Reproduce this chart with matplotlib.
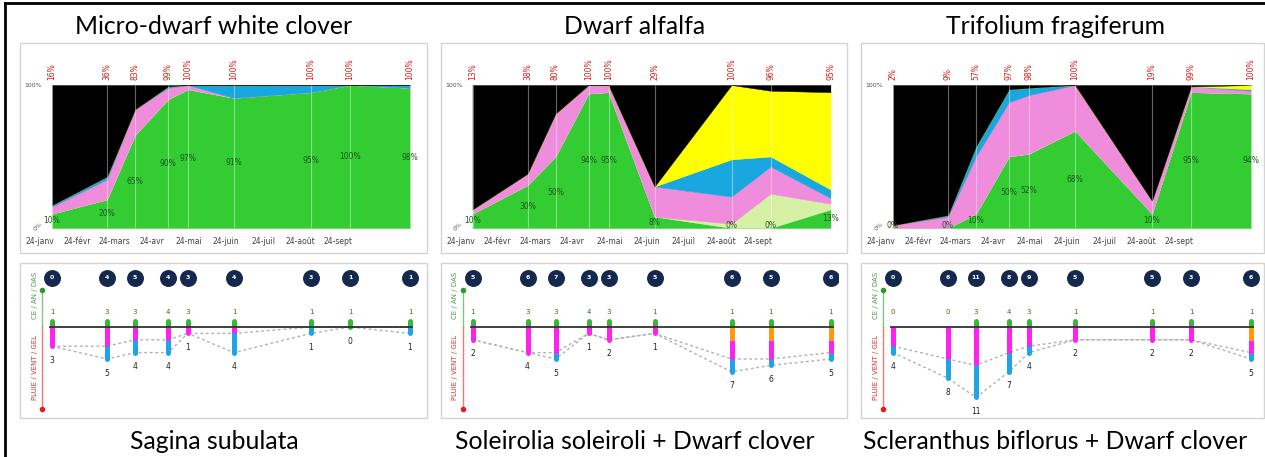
import matplotlib
matplotlib.use('Agg')
import matplotlib.pyplot as plt
from matplotlib.patches import Rectangle
from matplotlib.lines import Line2D

# ---------------- data ----------------
titles_top = ['Micro-dwarf white clover', 'Dwarf alfalfa', 'Trifolium fragiferum']
titles_bottom = ['Sagina subulata', 'Soleirolia soleiroli + Dwarf clover',
                 'Scleranthus biflorus + Dwarf clover']

# sampling positions (days from first survey)
sample_x = [0, 55, 83, 116, 136, 182, 259, 298, 358]
month_labels = ['24-janv', '24-févr', '24-mars', '24-avr', '24-mai',
                '24-juin', '24-juil', '24-août', '24-sept']

# upper charts: % cover (stacked)
green_1 = [10, 20, 65, 90, 97, 91, 95, 100, 98]
lightg_1 = [0, 0, 0, 0, 0, 0, 0, 0, 0]
pink_1 = [5, 14, 18, 8, 3, 0, 0, 0, 0]
blue_1 = [1, 2, 0, 1, 0, 9, 5, 0, 2]
yellow_1 = [0, 0, 0, 0, 0, 0, 0, 0, 0]

green_2 = [10, 30, 50, 94, 95, 8, 0, 0, 13]
lightg_2 = [0, 0, 0, 0, 0, 0, 3, 24, 4]
pink_2 = [3, 8, 30, 6, 5, 21, 19, 19, 4]
blue_2 = [0, 0, 0, 0, 0, 0, 26, 7, 6]
yellow_2 = [0, 0, 0, 0, 0, 0, 52, 46, 68]

green_3 = [0, 0, 10, 50, 52, 68, 10, 95, 94]
lightg_3 = [0, 0, 0, 0, 0, 0, 0, 0, 0]
pink_3 = [2, 8, 40, 38, 41, 32, 9, 4, 2]
blue_3 = [0, 1, 7, 9, 5, 0, 0, 0, 1]
yellow_3 = [0, 0, 0, 0, 0, 0, 0, 0, 3]

# lower charts: counts
bubble_1 = [0, 4, 5, 4, 3, 4, 3, 1, 1]
above_1 = [1, 3, 3, 4, 3, 1, 1, 1, 1]
orange_1 = [0, 0, 0, 0, 0, 0, 0, 0, 0]
magenta_1 = [3, 3, 2, 2, 1, 1, 0, 0, 0]
cyan_1 = [0, 2, 2, 2, 0, 3, 1, 0, 1]

bubble_2 = [5, 6, 7, 3, 3, 5, 6, 5, 6]
above_2 = [1, 3, 3, 4, 3, 1, 1, 1, 1]
orange_2 = [0, 0, 0, 0, 0, 0, 2, 2, 2]
magenta_2 = [2, 4, 4, 1, 2, 1, 3, 3, 2]
cyan_2 = [0, 0, 1, 0, 0, 0, 2, 1, 1]

bubble_3 = [0, 6, 11, 8, 9, 5, 5, 3, 6]
above_3 = [0, 0, 3, 4, 3, 1, 1, 1, 1]
orange_3 = [0, 0, 0, 0, 0, 0, 0, 0, 2]
magenta_3 = [3, 5, 6, 4, 3, 2, 2, 2, 2]
cyan_3 = [1, 3, 5, 3, 1, 0, 0, 0, 1]

upper = [(green_1, lightg_1, pink_1, blue_1, yellow_1),
         (green_2, lightg_2, pink_2, blue_2, yellow_2),
         (green_3, lightg_3, pink_3, blue_3, yellow_3)]
lower = [(bubble_1, above_1, orange_1, magenta_1, cyan_1),
         (bubble_2, above_2, orange_2, magenta_2, cyan_2),
         (bubble_3, above_3, orange_3, magenta_3, cyan_3)]

# ---------------- styling ----------------
C_GREEN = '#33CC33'
C_LGREEN = '#D6F0A6'
C_PINK = '#F08CDC'
C_BLUE = '#1AA7E0'
C_YELLOW = '#FFFF00'
C_BLACK = '#000000'
L_GREEN = '#35B935'
L_MAG = '#FF22EE'
L_BLUE = '#1FA4E6'
L_ORANGE = '#FF9A10'
NAVY = '#14294D'

W, H = 1265, 457
fig = plt.figure(figsize=(W / 100, H / 100), dpi=100)
TITLE_FONT = ['Lato', 'DejaVu Sans']


def rect(x0, y0, x1, y1):
    return [x0 / W, 1 - y1 / H, (x1 - x0) / W, (y1 - y0) / H]


def box(x0, y0, x1, y1):
    fig.add_artist(Rectangle((x0 / W, 1 - y1 / H), (x1 - x0) / W, (y1 - y0) / H,
                             transform=fig.transFigure, fill=False,
                             ec='#D4D4D4', lw=1.0))


# outer frame lines
fig.add_artist(Line2D([5 / W, 1], [1 - 3 / H, 1 - 3 / H], color='black', lw=2,
                      transform=fig.transFigure))
fig.add_artist(Line2D([5 / W, 5 / W], [0, 1 - 3 / H], color='black', lw=2,
                      transform=fig.transFigure))

COL_DX = 420.5
PLOT_L = 52          # px of first sample
UNIT = 6.4           # px per count unit in lower chart
LINE_Y = 327         # px of zero line in lower chart

for c in range(3):
    ox = c * COL_DX
    right = min(427 + ox, W - 1)
    box(20 + ox, 43, right, 253)
    box(20 + ox, 263, right, 418)

    fig.text((214 + ox) / W, 1 - 34 / H, titles_top[c], ha='center', va='baseline',
             fontsize=17.8, family=TITLE_FONT, color='black')
    fig.text((214 + ox) / W, 1 - 449 / H, titles_bottom[c], ha='center', va='baseline',
             fontsize=17.8, family=TITLE_FONT, color='black')

    # ---------- upper stacked area ----------
    g, lg, pk, bl, ye = upper[c]
    rest = [100 - (a + b + d + e + f) for a, b, d, e, f in zip(g, lg, pk, bl, ye)]
    ax = fig.add_axes(rect(22 + ox, 85, 418 + ox, 228))
    ax.set_xlim(22 - PLOT_L, 418 - PLOT_L)
    ax.set_ylim(0, 100)
    ax.patch.set_visible(False)
    for s in ax.spines.values():
        s.set_visible(False)
    ax.stackplot(sample_x, g, lg, pk, bl, ye, rest,
                 colors=[C_GREEN, C_LGREEN, C_PINK, C_BLUE, C_YELLOW, C_BLACK],
                 linewidth=0.3, edgecolor='face')
    ax.vlines(sample_x, 0, 100, colors='white', lw=0.8, alpha=0.4)
    month_pos = [-12 + 37.25 * i for i in range(len(month_labels))]
    ax.set_xticks(month_pos)
    ax.set_xticklabels(month_labels, fontsize=5.5, color='#404040')
    ax.tick_params(axis='x', length=0, pad=6.5)
    ax.set_yticks([])
    ax.text(-10, 100, '100%', ha='right', va='center', fontsize=4.5, color='#505050')
    ax.text(-9, 1, '0%', ha='right', va='center', fontsize=4.5, color='#505050',
            rotation=45)
    totals = [100 - r for r in rest]
    for x, gv, tv in zip(sample_x, g, totals):
        ax.text(x, max(gv / 2, 1.5), f'{gv}%', ha='center', va='center',
                fontsize=5.5, color='#1B5A1B')
        ax.text(x, 103.5, f'{tv}%', ha='center', va='bottom', rotation=90,
                fontsize=5.5, color='#E01818', clip_on=False)

    # ---------- lower counts chart ----------
    bub, ab, orn, mag, cy = lower[c]
    axl = fig.add_axes(rect(22 + ox, 263, 418 + ox, 418))
    axl.set_xlim(22 - PLOT_L, 418 - PLOT_L)
    axl.set_ylim(-(418 - LINE_Y) / UNIT, (LINE_Y - 263) / UNIT)
    axl.axis('off')

    cum_a = [-(o + m) for o, m in zip(orn, mag)]
    cum_b = [-(o + m + b) for o, m, b in zip(orn, mag, cy)]
    axl.plot(sample_x, cum_a, ls=(0, (2, 2)), color='#B0B0B0', lw=1, zorder=1)
    axl.plot(sample_x, cum_b, ls=(0, (2, 2)), color='#B0B0B0', lw=1, zorder=1)
    axl.plot([sample_x[0] - 2, sample_x[-1] + 2], [0, 0], color='#303030', lw=1.3,
             zorder=4)

    # left arrow axis
    axl.plot([-10, -10], [0, 5.8], color='#7CC87C', lw=1, zorder=2)
    axl.plot([-10, -10], [0, -12.8], color='#F07878', lw=1, zorder=2)
    axl.plot([-10], [5.8], 'o', ms=3, color='#2E9A2E', zorder=3)
    axl.plot([-10], [-12.8], 'o', ms=3, color='#E02020', zorder=3)
    axl.text(-17, 5.0, 'CE / AN / DAS', rotation=90, ha='center', va='center',
             fontsize=5, color='#4E9A4E')
    axl.text(-17, -6.3, 'PLUIE / VENT / GEL', rotation=90, ha='center', va='center',
             fontsize=5, color='#E03030')

    for x, n, a, o, m, b in zip(sample_x, bub, ab, orn, mag, cy):
        axl.scatter([x], [7.7], s=125, color=NAVY, zorder=5)
        axl.text(x, 7.7, str(n), ha='center', va='center', fontsize=4.5,
                 color='white', fontweight='bold', zorder=6)
        if a > 0:
            axl.plot([x, x], [0, 1], color=L_GREEN, lw=3.6, solid_capstyle='round',
                     zorder=3)
        segs = [(0, -o, L_ORANGE), (-o, -(o + m), L_MAG), (-(o + m), -(o + m + b), L_BLUE)]
        segs = [s for s in segs if s[0] != s[1]]
        for i, (y0, y1, col) in enumerate(reversed(segs)):
            axl.plot([x, x], [y0, y1], color=col, lw=3.6,
                     solid_capstyle='round' if i == 0 else 'butt', zorder=3 + i * 0.01)
        tot = o + m + b
        axl.text(x, 2.4, str(a), ha='center', va='center', fontsize=5, color='#4F6228')
        axl.text(x, -tot - 2.2, str(tot), ha='center', va='center', fontsize=5.5,
                 color='#202020')

fig.savefig('out.png', dpi=100)
